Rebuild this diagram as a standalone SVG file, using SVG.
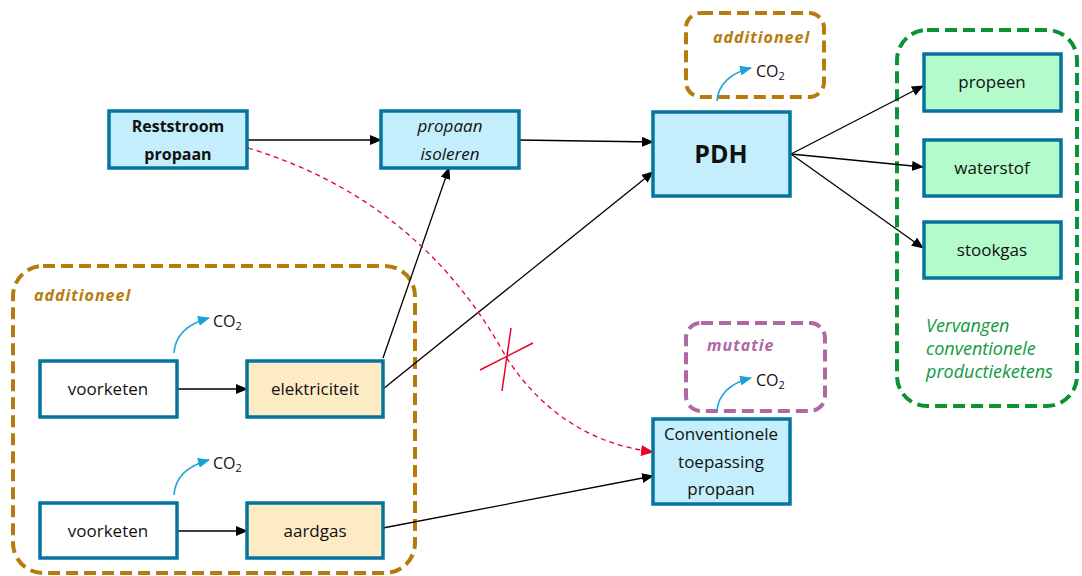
<svg xmlns="http://www.w3.org/2000/svg" width="1082" height="576" viewBox="0 0 1082 576">
<defs>
<marker id="ab" markerWidth="12" markerHeight="10" refX="11" refY="5" orient="auto" markerUnits="userSpaceOnUse"><path d="M0,0 L12,5 L0,10 Z" fill="#000"/></marker>
<marker id="ar" markerWidth="13" markerHeight="11" refX="12" refY="5.5" orient="auto" markerUnits="userSpaceOnUse"><path d="M0,0 L13,5.5 L0,11 Z" fill="#e4002b"/></marker>
<marker id="au" markerWidth="12" markerHeight="10" refX="11" refY="5" orient="auto" markerUnits="userSpaceOnUse"><path d="M0,0 L12,5 L0,10 Z" fill="#1ba1dc"/></marker>
</defs>
<style>
text{font-family:"Open Sans","Liberation Sans",sans-serif;font-size:17px;fill:#111;text-anchor:middle}
.box{stroke:#05759f;stroke-width:3.5}
.blue{fill:#c4eefc}.green{fill:#b3fbca}.beige{fill:#fdebc6}.white{fill:#fff}
.b{font-weight:bold;font-size:16px}.i{font-style:italic}
.grp{fill:none;stroke-width:4;stroke-dasharray:12 6}
.gold{stroke:#b67c0b}.purple{stroke:#b166a6}.grn{stroke:#0a9233}
.lbl{font-style:italic;font-weight:bold;letter-spacing:1px;text-anchor:start;font-size:16px}
.ln{stroke:#000;stroke-width:1.3;fill:none;marker-end:url(#ab)}
.co{stroke:#1ba1dc;stroke-width:1.5;fill:none;marker-end:url(#au)}
.co2{text-anchor:start;font-size:16px}
.vv{font-style:italic;fill:#0e9a3e;text-anchor:start;font-size:18px}
</style>
<g id="groups">
<rect class="grp gold" x="13" y="266" width="402" height="307" rx="30"/>
<text class="lbl" x="34" y="301" style="fill:#b67c0b">additioneel</text>
<rect class="grp gold" x="686" y="13" width="138" height="84" rx="15"/>
<text class="lbl" x="713" y="43" style="fill:#b67c0b">additioneel</text>
<rect class="grp purple" x="686" y="323" width="139" height="88" rx="15"/>
<text class="lbl" x="707" y="351" style="fill:#b166a6">mutatie</text>
<rect class="grp grn" x="897" y="30" width="180" height="376" rx="30"/>
<text class="vv" x="926" y="332">Vervangen</text>
<text class="vv" x="926" y="355">conventionele</text>
<text class="vv" x="926" y="378">productieketens</text>
</g>
<g id="connectors">
<line class="ln" x1="247" y1="140" x2="381" y2="140"/>
<line class="ln" x1="519" y1="140" x2="653" y2="142"/>
<line class="ln" x1="383" y1="358" x2="449" y2="168"/>
<line class="ln" x1="383" y1="389" x2="653" y2="172"/>
<line class="ln" x1="383" y1="528" x2="653" y2="476"/>
<line class="ln" x1="177" y1="389" x2="247" y2="389"/>
<line class="ln" x1="177" y1="531" x2="247" y2="531"/>
<line class="ln" x1="791" y1="154" x2="923" y2="86"/>
<line class="ln" x1="791" y1="154" x2="923" y2="167"/>
<line class="ln" x1="791" y1="154" x2="923" y2="248"/>
<path d="M248,148 Q420,200 506,357 Q560,440 653,452" fill="none" stroke="#e4002b" stroke-width="1.3" stroke-dasharray="5 4" marker-end="url(#ar)"/>
<line x1="480" y1="370" x2="533" y2="343" stroke="#e4002b" stroke-width="1.5"/>
<line x1="511" y1="328" x2="502" y2="391" stroke="#e4002b" stroke-width="1.5"/>
<path class="co" d="M717,101 C718,85 730,73 751,68"/>
<path class="co" d="M717,411 C718,395 730,383 751,378"/>
<path class="co" d="M174,353 C175,336 187,324 209,318"/>
<path class="co" d="M174,495 C175,478 187,466 209,460"/>
</g>
<g id="co2-labels">
<text class="co2" x="756" y="77">CO<tspan font-size="11" dy="3">2</tspan></text>
<text class="co2" x="756" y="386">CO<tspan font-size="11" dy="3">2</tspan></text>
<text class="co2" x="213" y="327">CO<tspan font-size="11" dy="3">2</tspan></text>
<text class="co2" x="213" y="469">CO<tspan font-size="11" dy="3">2</tspan></text>
</g>
<g id="reststroom">
<rect class="box blue" x="109" y="111" width="138" height="57"/>
<text class="b" x="178" y="132">Reststroom</text>
<text class="b" x="178" y="160">propaan</text>
</g>
<g id="isoleren">
<rect class="box blue" x="381" y="111" width="138" height="57"/>
<text class="i" x="450" y="132">propaan</text>
<text class="i" x="450" y="160">isoleren</text>
</g>
<g id="pdh">
<rect class="box blue" x="653" y="112" width="137" height="84"/>
<text class="b" x="721" y="163" style="font-size:25px">PDH</text>
</g>
<g id="propeen">
<rect class="box green" x="924" y="54" width="137" height="57"/>
<text x="992" y="88">propeen</text>
</g>
<g id="waterstof">
<rect class="box green" x="924" y="140" width="137" height="56"/>
<text x="992" y="174">waterstof</text>
</g>
<g id="stookgas">
<rect class="box green" x="924" y="222" width="137" height="56"/>
<text x="992" y="256">stookgas</text>
</g>
<g id="voorketen1">
<rect class="box white" x="40" y="361" width="137" height="56"/>
<text x="108" y="395">voorketen</text>
</g>
<g id="elektriciteit">
<rect class="box beige" x="247" y="361" width="136" height="56"/>
<text x="315" y="395">elektriciteit</text>
</g>
<g id="voorketen2">
<rect class="box white" x="40" y="503" width="137" height="55"/>
<text x="108" y="537">voorketen</text>
</g>
<g id="aardgas">
<rect class="box beige" x="247" y="503" width="136" height="55"/>
<text x="315" y="537">aardgas</text>
</g>
<g id="conventionele">
<rect class="box blue" x="653" y="419" width="137" height="85"/>
<text x="721" y="440">Conventionele</text>
<text x="721" y="468">toepassing</text>
<text x="721" y="495">propaan</text>
</g>
</svg>
